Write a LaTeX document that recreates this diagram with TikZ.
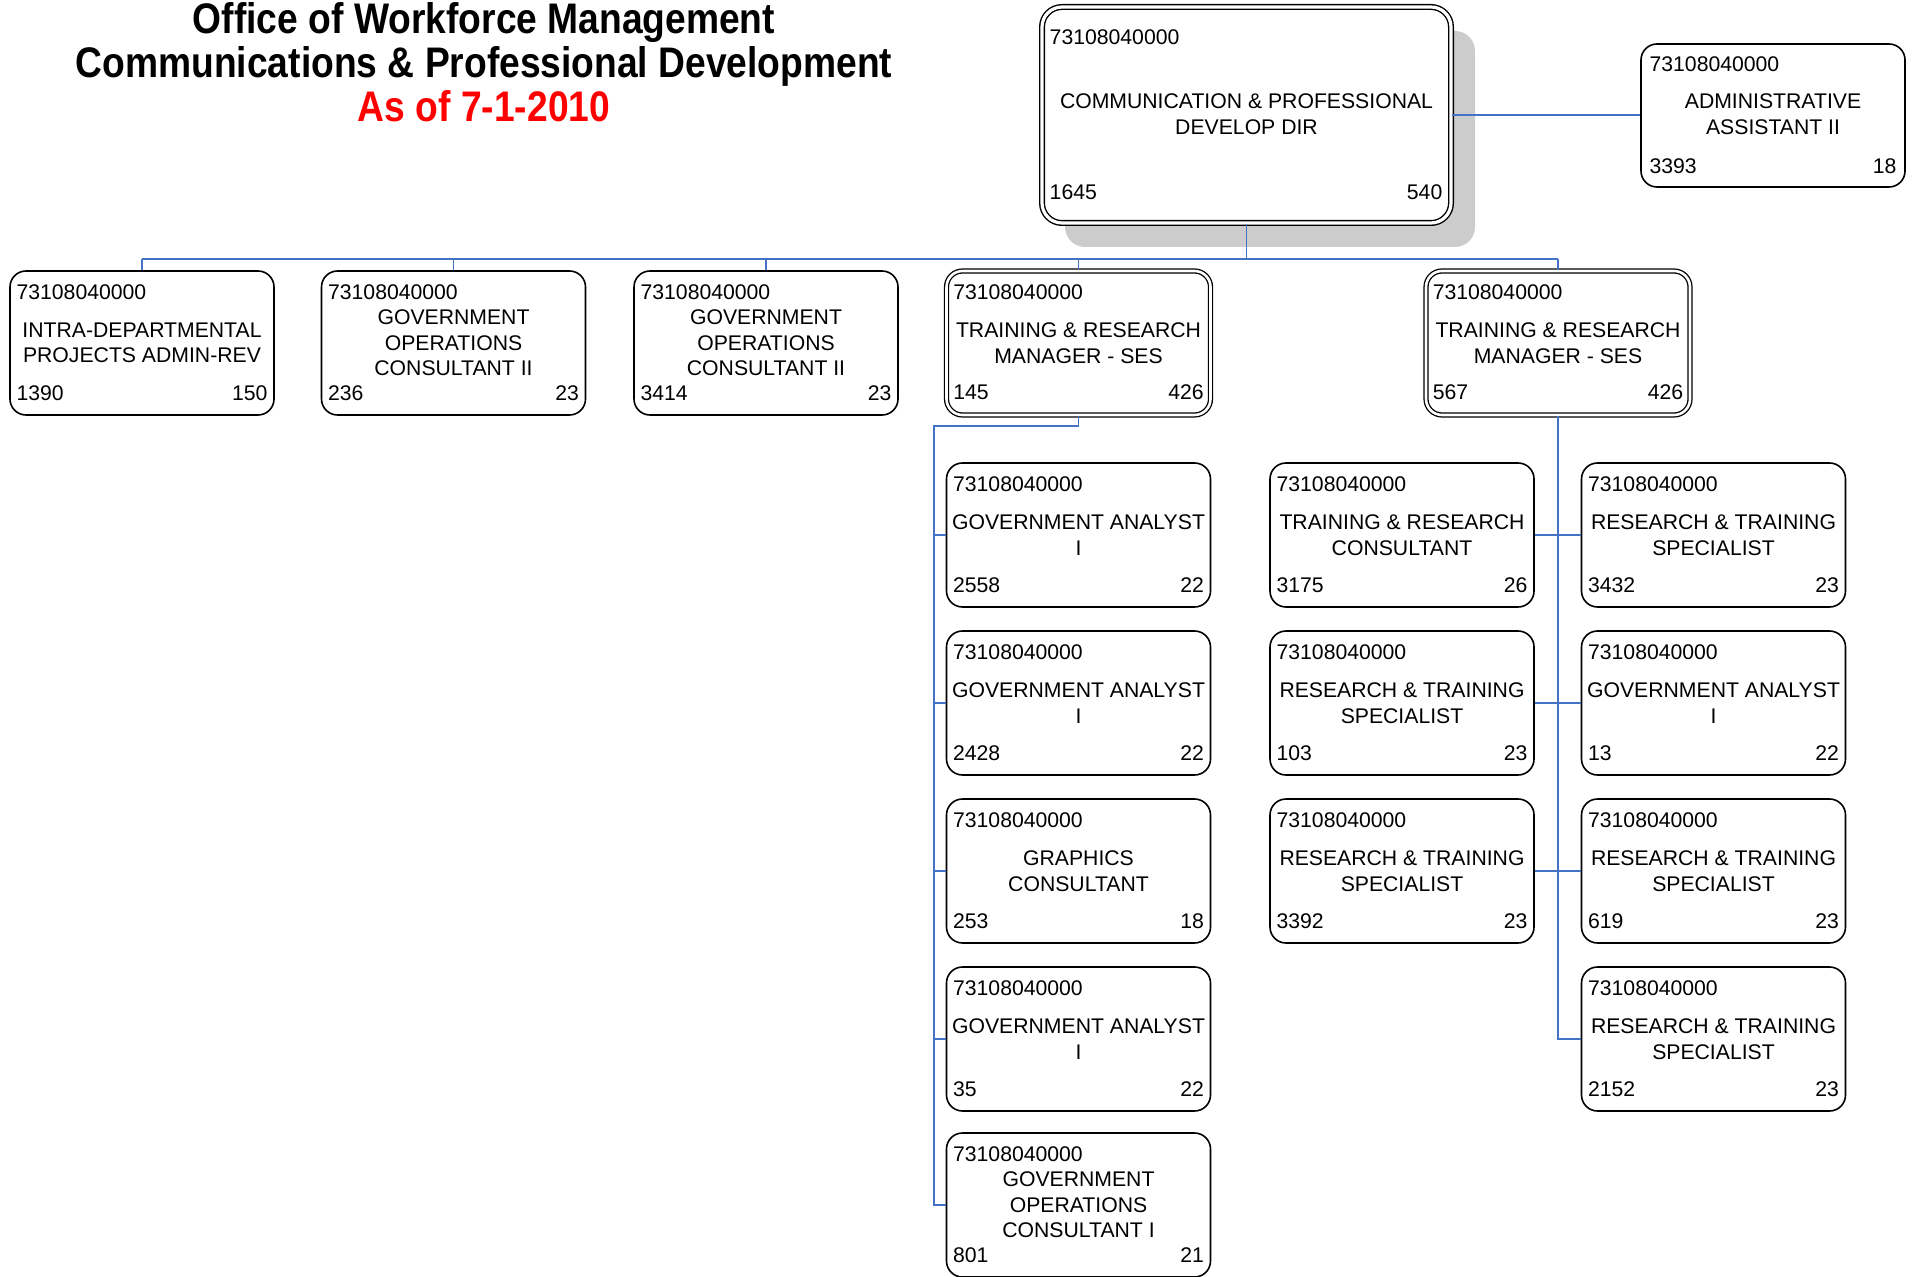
\documentclass[tikz,border=0pt]{standalone}
\usepackage{fontspec}
\setmainfont{Liberation Sans}
\usepackage{graphicx}
\usetikzlibrary{calc}
\definecolor{linkblue}{RGB}{68,114,196}
\definecolor{shadowgrey}{RGB}{204,204,204}
\definecolor{datered}{RGB}{255,0,0}

\tikzset{
  posbox/.style={draw, fill=white, rounded corners=8pt, line width=0.8pt,
    minimum width=132pt, minimum height=72pt, inner sep=0pt},
  mgrbox/.style={posbox, line width=0.65pt, double=white, double distance=1.3pt},
  dirbox/.style={draw, fill=white, rounded corners=10pt, line width=0.7pt,
    double=white, double distance=1.6pt,
    minimum width=204.5pt, minimum height=108pt, inner sep=0pt},
  admbox/.style={posbox, minimum height=71.5pt},
  small/.style={font=\fontsize{10.6}{12.8}\selectfont, inner sep=0pt},
  titletext/.style={small, align=center},
  headline/.style={font=\fontsize{18.6}{22}\selectfont\bfseries, inner sep=0pt, anchor=base},
  link/.style={draw=linkblue, line width=0.8pt},
}

% one position box: name, centre x, centre y, style, title, left number, right number
\newcommand\orgbox[7]{%
  \node[#4] (#1) at (#2,#3) {};
  \node[small, anchor=west] (#1-id) at ($(#1.north west)+(7,22)$) {73108040000};
  \node[titletext] (#1-title) at ($(#1.center)+(0,0)$) {#5};
  \node[small, anchor=west] (#1-left) at ($(#1.south west)+(7,-23)$) {#6};
  \node[small, anchor=east] (#1-right) at ($(#1.south east)+(-7,-23)$) {#7};
}

\begin{document}
\begin{tikzpicture}[x=0.5pt, y=-0.5pt]
\useasboundingbox (0,0) rectangle (1915,1277);
\clip (0,0) rectangle (1915,1277);

% heading
\node[headline] (head1) at (484,34) {\scalebox{1}[1.15]{Office of Workforce Management}};
\node[headline] (head2) at (484,78) {\scalebox{1}[1.15]{Communications \& Professional Development}};
\node[headline, text=datered] (head3) at (484,122) {\scalebox{1}[1.15]{As of 7-1-2010}};

% director with its shadow
\fill[shadowgrey, rounded corners=10pt] (1065,31) rectangle (1475,247);
\node[dirbox] (dir) at (1246.5,115) {};
\node[small, anchor=west] (dir-id) at ($(dir.north west)+(8,31)$) {73108040000};
\node[titletext] (dir-title) at ($(dir.center)+(0,-0.5)$) {COMMUNICATION \& PROFESSIONAL\\DEVELOP DIR};
\node[small, anchor=west] (dir-left) at ($(dir.south west)+(8,-31)$) {1645};
\node[small, anchor=east] (dir-right) at ($(dir.south east)+(-9,-31)$) {540};

% administrative assistant
\node[admbox] (adm) at (1773,115.5) {};
\node[small, anchor=west] (adm-id) at ($(adm.north west)+(9,21)$) {73108040000};
\node[titletext] (adm-title) at ($(adm.center)+(0,-1)$) {ADMINISTRATIVE\\ASSISTANT II};
\node[small, anchor=west] (adm-left) at ($(adm.south west)+(9,-22)$) {3393};
\node[small, anchor=east] (adm-right) at ($(adm.south east)+(-9,-22)$) {18};

% first level
\orgbox{a1}{142}{343}{posbox}{INTRA-DEPARTMENTAL\\PROJECTS ADMIN-REV}{1390}{150}
\orgbox{a2}{453.5}{343}{posbox}{GOVERNMENT\\OPERATIONS\\CONSULTANT II}{236}{23}
\orgbox{a3}{766}{343}{posbox}{GOVERNMENT\\OPERATIONS\\CONSULTANT II}{3414}{23}
\orgbox{m1}{1078.5}{343}{mgrbox}{TRAINING \& RESEARCH\\MANAGER - SES}{145}{426}
\orgbox{m2}{1558}{343}{mgrbox}{TRAINING \& RESEARCH\\MANAGER - SES}{567}{426}

% staff of the first manager
\orgbox{l1}{1078.5}{535}{posbox}{GOVERNMENT ANALYST\\I}{2558}{22}
\orgbox{l2}{1078.5}{703}{posbox}{GOVERNMENT ANALYST\\I}{2428}{22}
\orgbox{l3}{1078.5}{871}{posbox}{GRAPHICS\\CONSULTANT}{253}{18}
\orgbox{l4}{1078.5}{1039}{posbox}{GOVERNMENT ANALYST\\I}{35}{22}
\orgbox{l5}{1078.5}{1205}{posbox}{GOVERNMENT\\OPERATIONS\\CONSULTANT I}{801}{21}

% staff of the second manager
\orgbox{p1}{1402}{535}{posbox}{TRAINING \& RESEARCH\\CONSULTANT}{3175}{26}
\orgbox{p2}{1402}{703}{posbox}{RESEARCH \& TRAINING\\SPECIALIST}{103}{23}
\orgbox{p3}{1402}{871}{posbox}{RESEARCH \& TRAINING\\SPECIALIST}{3392}{23}
\orgbox{q1}{1713.5}{535}{posbox}{RESEARCH \& TRAINING\\SPECIALIST}{3432}{23}
\orgbox{q2}{1713.5}{703}{posbox}{GOVERNMENT ANALYST\\I}{13}{22}
\orgbox{q3}{1713.5}{871}{posbox}{RESEARCH \& TRAINING\\SPECIALIST}{619}{23}
\orgbox{q4}{1713.5}{1039}{posbox}{RESEARCH \& TRAINING\\SPECIALIST}{2152}{23}

% connectors from the director
\coordinate (bus) at (0,259);
\draw[link] (dir.south) -- (dir.south |- bus);
\draw[link] (a1.north |- bus) -- (m2.north |- bus);
\foreach \b in {a1,a2,a3,m1,m2} \draw[link] (\b.north |- bus) -- (\b.north);
\draw[link] (dir.east) -- (dir.east -| adm.west);

% connectors of the first manager
\coordinate (lspine) at (934,426);
\draw[link] (m1.south) |- (lspine) -- (lspine |- l5.west) -- (l5.west);
\foreach \b in {l1,l2,l3,l4} \draw[link] (lspine |- \b.west) -- (\b.west);

% connectors of the second manager
\draw[link] (m2.south) -- (m2.south |- q4.west) -- (q4.west);
\foreach \b in {p1,p2,p3} \draw[link] (m2.south |- \b.east) -- (\b.east);
\foreach \b in {q1,q2,q3} \draw[link] (m2.south |- \b.west) -- (\b.west);
\end{tikzpicture}
\end{document}
